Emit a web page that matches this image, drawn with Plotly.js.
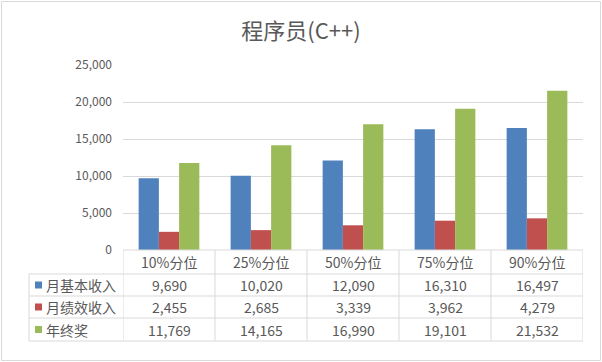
<!DOCTYPE html>
<html>
<head>
<meta charset="utf-8">
<script src="https://cdn.plot.ly/plotly-3.0.1.min.js"></script>
<style>
html,body{margin:0;padding:0;background:#fff;}
#chart{width:602px;height:362px;}
</style>
</head>
<body>
<div id="chart"></div>
<script>
// ---- data ----
const categories = ['10%分位','25%分位','50%分位','75%分位','90%分位'];
const seriesNames = ['月基本收入','月绩效收入','年终奖'];
const baseIncome = [9690, 10020, 12090, 16310, 16497];
const perfIncome = [2455, 2685, 3339, 3962, 4279];
const yearBonus = [11769, 14165, 16990, 19101, 21532];
const yTickVals = [0, 5000, 10000, 15000, 20000, 25000];
const yTickText = ['0', '5,000', '10,000', '15,000', '20,000', '25,000'];

const seriesValues = [baseIncome, perfIncome, yearBonus];
const colors = ['#4F81BD', '#C0504D', '#9BBB59'];

// ---- geometry (pixels) ----
const W = 602, H = 362;
const plotL = 123, plotR = 583, plotT = 65, plotB = 250;
const rowLines = [250, 274, 296, 318, 341];
const legendL = 29;
const px2x = p => (p - plotL) / (plotR - plotL);
const py2y = p => (plotB - p) / (plotB - plotT);

const fontCJK = '"Noto Sans CJK SC", "Microsoft YaHei", sans-serif';
const txtColor = '#595959';
const lineColor = '#D9D9D9';

const xIdx = categories.map((c, i) => i);
const traces = seriesValues.map((vals, s) => ({
  type: 'bar',
  name: seriesNames[s],
  x: xIdx,
  y: vals,
  marker: {color: colors[s]},
  hoverinfo: 'none'
}));

const shapes = [];
const annotations = [];

// outer border
shapes.push({type:'rect', xref:'paper', yref:'paper',
  x0: px2x(1.5), x1: px2x(600.5), y0: py2y(1.5), y1: py2y(360.5),
  line:{color:lineColor, width:1}, layer:'below'});

// table horizontal lines
rowLines.forEach((py, i) => {
  shapes.push({type:'line', xref:'paper', yref:'paper',
    x0: px2x(i === 0 ? plotL : legendL), x1: px2x(plotR),
    y0: py2y(py), y1: py2y(py), line:{color:lineColor, width:1}});
});
// table vertical lines
shapes.push({type:'line', xref:'paper', yref:'paper',
  x0: px2x(legendL), x1: px2x(legendL), y0: py2y(rowLines[1]), y1: py2y(rowLines[4]),
  line:{color:lineColor, width:1}});
for (let i = 0; i <= categories.length; i++) {
  shapes.push({type:'line', xref:'x', yref:'paper',
    x0: i - 0.5, x1: i - 0.5, y0: py2y(rowLines[0]), y1: py2y(rowLines[4]),
    line:{color:lineColor, width:1}});
}

// header labels
categories.forEach((c, i) => {
  annotations.push({xref:'x', yref:'paper', x:i, y: py2y((rowLines[0]+rowLines[1])/2),
    text:c, showarrow:false, xanchor:'center', yanchor:'middle',
    font:{family:fontCJK, size:14, color:txtColor}});
});
// rows
seriesValues.forEach((vals, s) => {
  const yc = (rowLines[s+1] + rowLines[s+2]) / 2;
  shapes.push({type:'rect', xref:'paper', yref:'paper',
    x0: px2x(35), x1: px2x(42), y0: py2y(yc-3.5), y1: py2y(yc+3.5),
    fillcolor: colors[s], line:{width:0}});
  annotations.push({xref:'paper', yref:'paper', x: px2x(44), y: py2y(yc),
    text: seriesNames[s], showarrow:false, xanchor:'left', yanchor:'middle',
    font:{family:fontCJK, size:14, color:txtColor}});
  vals.forEach((v, i) => {
    annotations.push({xref:'x', yref:'paper', x:i, y: py2y(yc),
      text: v.toLocaleString('en-US'), showarrow:false, xanchor:'center', yanchor:'middle',
      font:{family:fontCJK, size:14, color:txtColor}});
  });
});

const layout = {
  width: W, height: H,
  margin: {l: plotL, r: W - plotR, t: plotT, b: H - plotB, pad: 0},
  paper_bgcolor: '#fff', plot_bgcolor: '#fff',
  title: {text: '程序员(C++)', x: 0.5, xref: 'container', xanchor: 'center',
    y: 1 - 31/H, yref: 'container', yanchor: 'middle',
    font: {family: fontCJK, size: 22, color: txtColor}},
  showlegend: false,
  barmode: 'group',
  bargap: 0.34,
  bargroupgap: 0,
  xaxis: {range: [-0.5, categories.length - 0.5], showticklabels: false, showgrid: false,
    zeroline: false, showline: false, ticks: '', fixedrange: true},
  yaxis: {range: [0, 25000], tickvals: yTickVals, ticktext: yTickText,
    showgrid: true, gridcolor: lineColor, gridwidth: 1, zeroline: false, showline: false,
    ticks: '', ticklabelstandoff: 10,
    tickfont: {family: fontCJK, size: 12, color: txtColor}, fixedrange: true},
  shapes: shapes,
  annotations: annotations
};

Plotly.newPlot('chart', traces, layout, {displayModeBar: false, staticPlot: true});
</script>
</body>
</html>
